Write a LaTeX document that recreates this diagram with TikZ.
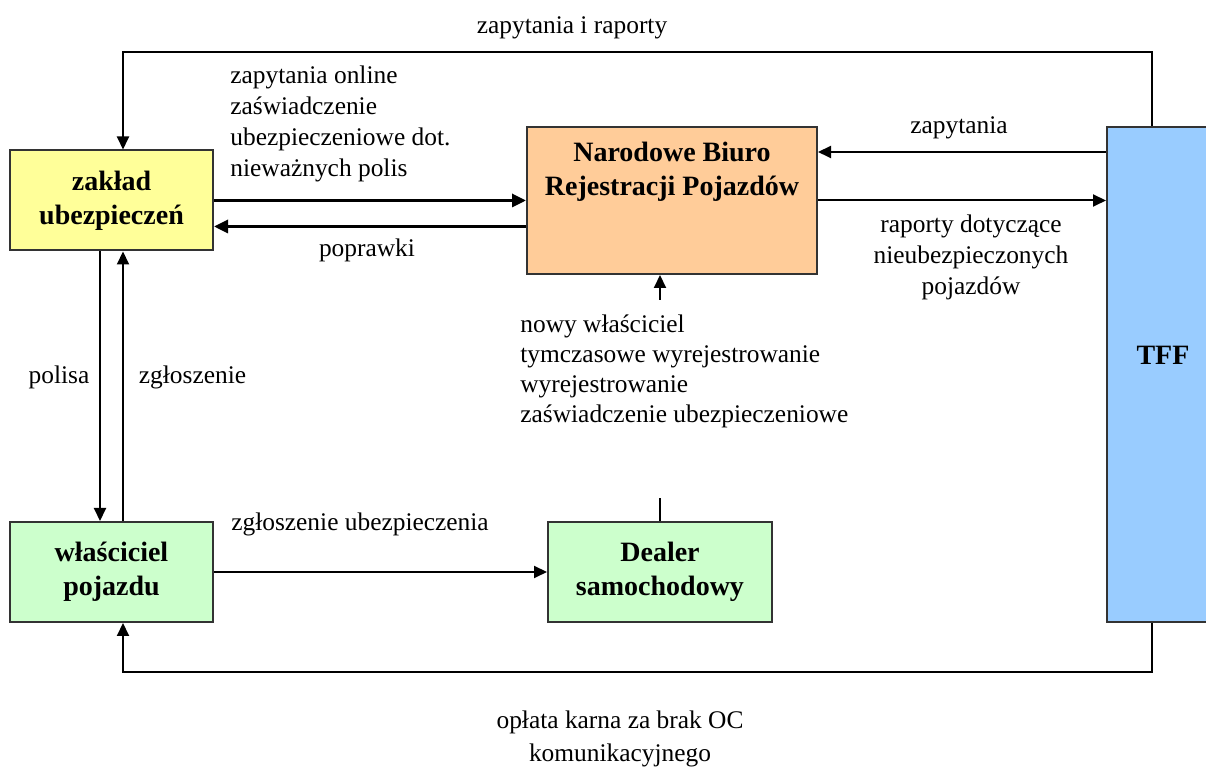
\documentclass[tikz,border=0pt]{standalone}
\usepackage{fontspec}
\setmainfont{Liberation Serif}
\usetikzlibrary{arrows.meta, positioning}

\definecolor{zoltyBox}{HTML}{FFFF99}
\definecolor{pomBox}{HTML}{FFCC99}
\definecolor{niebBox}{HTML}{99CCFF}
\definecolor{zielBox}{HTML}{CCFFCC}

\tikzset{
  blok/.style={draw=black!80, line width=1pt, rectangle, inner sep=0pt, align=center,
    font=\bfseries\fontsize{14}{17}\selectfont},
  opis/.style={inner sep=0pt, font=\fontsize{12.7}{15.5}\selectfont},
  strz/.style={line width=1pt, -{Triangle[length=6.5pt,width=6pt]}},
  gruba/.style={line width=1.6pt, -{Triangle[length=7pt,width=6.5pt]}}
}

\begin{document}
\begin{tikzpicture}[x=0.5pt, y=-0.5pt, color=black]
\useasboundingbox (0,0) rectangle (1206,769);

\node[blok, fill=zoltyBox, minimum width=101.5pt, minimum height=50pt] (zaklad) at (111.5,200.5) {zak\l{}ad\\ubezpiecze\'n};
\node[blok, fill=pomBox, minimum width=145pt, minimum height=73.5pt] (nbrp) at (672,200.5) {};
\node[blok, draw=none] (nbrptxt) at (672,171.5) {Narodowe Biuro\\Rejestracji Pojazd\'ow};
\node[blok, fill=niebBox, minimum width=52.5pt, minimum height=247.5pt] (tff) at (1159.5,374.5) {};
\node[blok, draw=none] (tfftxt) at (1163,355) {TFF};
\node[blok, fill=zielBox, minimum width=101.5pt, minimum height=50pt] (wlasciciel) at (111.5,572) {w\l{}a\'sciciel\\pojazdu};
\node[blok, fill=zielBox, minimum width=112pt, minimum height=50pt] (dealer) at (660,572) {Dealer\\samochodowy};

% etykiety
\node[opis] (l1) at (572,28) {zapytania i raporty};
\node[opis, anchor=west, align=left] (l2) at (230,123.5) {zapytania online\\za\'swiadczenie\\ubezpieczeniowe dot.\\niewa\.znych polis};
\node[opis] (l3) at (367,250) {poprawki};
\node[opis] (l4) at (959,128) {zapytania};
\node[opis, align=center] (l5) at (971,257) {raporty dotycz\k{a}ce\\nieubezpieczonych\\pojazd\'ow};
\node[opis, anchor=west, align=left, font=\fontsize{12.7}{15}\selectfont] (l6) at (520,371.5) {nowy w\l{}a\'sciciel\\tymczasowe wyrejestrowanie\\wyrejestrowanie\\za\'swiadczenie ubezpieczeniowe};
\node[opis] (l7) at (59,377) {polisa};
\node[opis] (l8) at (192.5,377) {zg\l{}oszenie};
\node[opis] (l9) at (360,524) {zg\l{}oszenie ubezpieczenia};
\node[opis, align=center, font=\fontsize{12.7}{16.5}\selectfont] (l10) at (620,738.5) {op\l{}ata karna za brak OC\\komunikacyjnego};

% punkty zalamania
\coordinate (gP) at (1152,52);
\coordinate (gL) at (123,52);
\coordinate (dP) at (1152,672);
\coordinate (dL) at (123,672);
\coordinate (przerwaD) at (660,498);
\coordinate (przerwaG) at (660,300);

% strzalki
\draw[strz] (tff.north -| gP) -- (gP) -- (gL) -- (zaklad.north -| gL);
\draw[gruba] (zaklad.east) -- (zaklad.east -| nbrp.west);
\draw[gruba] ([yshift=-13pt]nbrp.west) -- ([yshift=-13pt]nbrp.west -| zaklad.east);
\draw[strz] ([yshift=24.25pt]tff.west |- nbrp.east) -- ([yshift=24.25pt]nbrp.east);
\draw[strz] (nbrp.east) -- (nbrp.east -| tff.west);
\draw[line width=1pt] (dealer.north) -- (przerwaD);
\draw[strz] (przerwaG) -- (nbrp.south -| przerwaG);
\draw[strz] ([xshift=-5.75pt]zaklad.south) -- ([xshift=-5.75pt]wlasciciel.north);
\draw[strz] ([xshift=5.75pt]wlasciciel.north) -- ([xshift=5.75pt]zaklad.south);
\draw[strz] (wlasciciel.east) -- (dealer.west);
\draw[strz] (tff.south -| dP) -- (dP) -- (dL) -- (wlasciciel.south -| dL);

\end{tikzpicture}
\end{document}
